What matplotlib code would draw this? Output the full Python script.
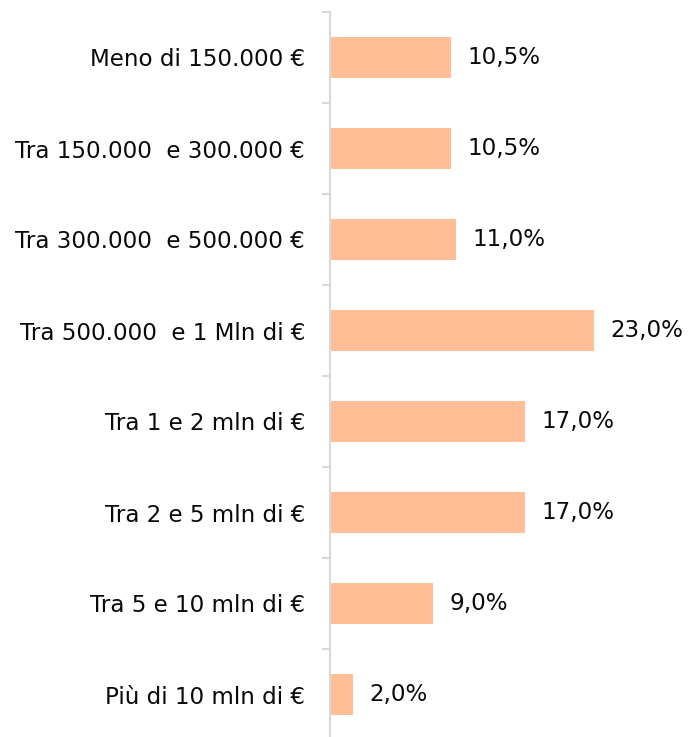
import numpy as np
import matplotlib.pyplot as plt

categories = ["Meno di 150.000 €", "Tra 150.000  e 300.000 €", "Tra 300.000  e 500.000 €",
              "Tra 500.000  e 1 Mln di €", "Tra 1 e 2 mln di €", "Tra 2 e 5 mln di €",
              "Tra 5 e 10 mln di €", "Più di 10 mln di €"]
values = [10.5, 10.5, 11.0, 23.0, 17.0, 17.0, 9.0, 2.0]
value_labels = ["10,5%", "10,5%", "11,0%", "23,0%", "17,0%", "17,0%", "9,0%", "2,0%"]

W, H = 690, 737
fig = plt.figure(figsize=(W / 100, H / 100), dpi=100)
ax = fig.add_axes([330 / W, -3 / H, (W - 330) / W, 728 / H])

y = np.arange(len(categories))
ax.barh(y, values, height=0.45, color="#FFBE96")
ax.set_ylim(len(categories) - 0.5, -0.5)
ax.set_xlim(0, (W - 330) / 11.48)

for yi, v, lab in zip(y, values, value_labels):
    ax.text(v + 1.45, yi, lab, va="center", ha="left", fontsize=16.6, color="#0a0a0a")

# axis styling
for s in ["top", "right", "bottom"]:
    ax.spines[s].set_visible(False)
ax.spines["left"].set_color("#D9D9D9")
ax.spines["left"].set_linewidth(1.5)
ax.set_xticks([])
ax.set_yticks(y)
ax.set_yticklabels(categories, fontsize=16.6, color="#0a0a0a")
ax.tick_params(axis="y", which="major", length=0, pad=18)
ax.set_yticks(np.arange(-0.5, len(categories), 1), minor=True)
ax.tick_params(axis="y", which="minor", length=6, width=1.5, color="#D9D9D9")

plt.savefig("out.png", dpi=100)
